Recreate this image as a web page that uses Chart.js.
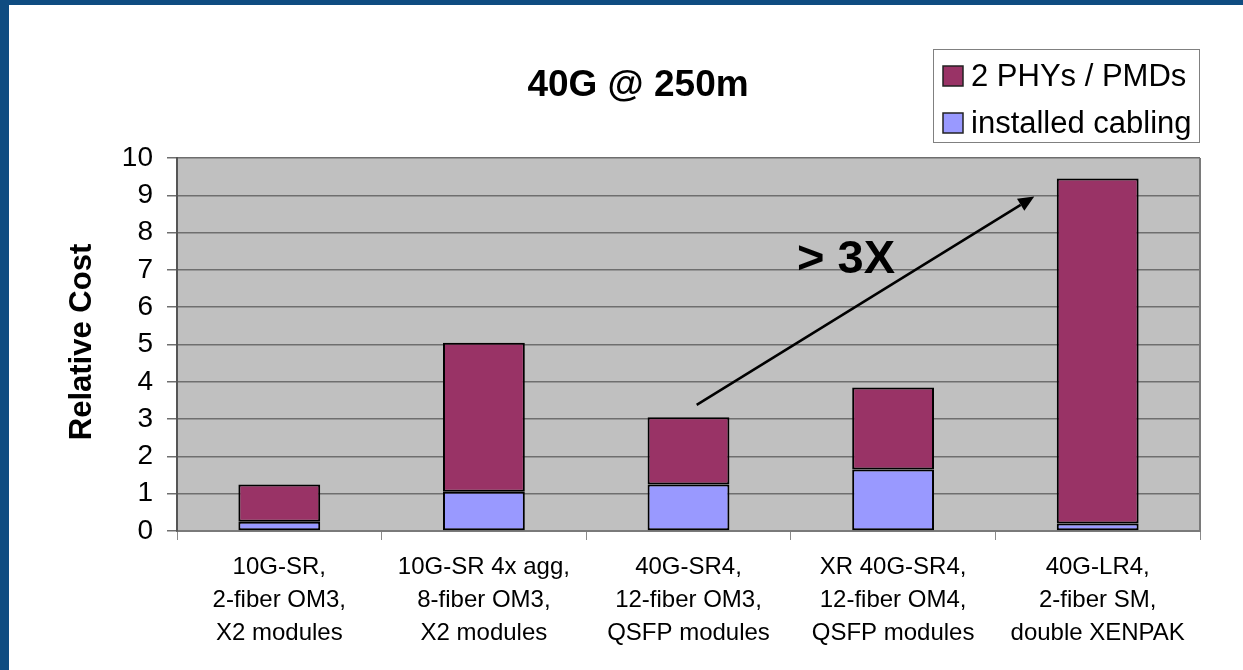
<!DOCTYPE html>
<html>
<head>
<meta charset="utf-8">
<script src="https://cdn.jsdelivr.net/npm/chart.js@4/dist/chart.umd.min.js"></script>
<style>
  html, body { margin: 0; padding: 0; background: #ffffff; }
  #frame { position: absolute; left: 0; top: 0; width: 1243px; height: 670px; overflow: hidden; }
  #bl { position: absolute; left: 0; top: 0; width: 9px; height: 670px; background: #0f4c81; }
  #bt { position: absolute; left: 0; top: 0; width: 1243px; height: 5px; background: #0f4c81; }
  #c { position: absolute; left: 0; top: 0; }
</style>
</head>
<body>
<div id="frame">
  <div id="bl"></div>
  <div id="bt"></div>
  <canvas id="c" width="1243" height="670"></canvas>
</div>
<script>
// ---- data ----
const categories = [
  ["10G-SR,", "2-fiber OM3,", "X2 modules"],
  ["10G-SR 4x agg,", "8-fiber OM3,", "X2 modules"],
  ["40G-SR4,", "12-fiber OM3,", "QSFP modules"],
  ["XR 40G-SR4,", "12-fiber OM4,", "QSFP modules"],
  ["40G-LR4,", "2-fiber SM,", "double XENPAK"]
];
const cablingValues = [0.25, 1.05, 1.25, 1.65, 0.2];
const phyValues = [1.0, 4.0, 1.8, 2.2, 9.25];
const seriesNames = ["2 PHYs / PMDs", "installed cabling"];
const yTicks = [0, 1, 2, 3, 4, 5, 6, 7, 8, 9, 10];
const chartTitle = "40G @ 250m";
const yAxisTitle = "Relative Cost";
const annotationText = "> 3X";
// arrow annotation in data space: [categoryIndex, value]
const arrowFrom = [2.04, 3.38];
const arrowTo = [3.69, 8.97];
const annotationAt = [2.77, 7.27];

const FONT = "'Liberation Sans', Arial, sans-serif";
const PHY_COLOR = "#993366";
const CAB_COLOR = "#9999ff";

const decor = {
  id: "decor",
  beforeDraw(chart) {
    const ctx = chart.ctx, a = chart.chartArea;
    ctx.save();
    ctx.fillStyle = "#c0c0c0";
    ctx.fillRect(a.left, a.top, a.right - a.left, a.bottom - a.top);
    ctx.restore();
  },
  afterDraw(chart) {
    const ctx = chart.ctx, a = chart.chartArea;
    const xs = chart.scales.x, ys = chart.scales.y;
    ctx.save();
    // right border of plot
    ctx.strokeStyle = "#7a7a7a";
    ctx.lineWidth = 2;
    ctx.beginPath();
    ctx.moveTo(a.right, a.top);
    ctx.lineTo(a.right, a.bottom);
    ctx.stroke();

    // title
    ctx.fillStyle = "#000";
    ctx.font = "bold 37px " + FONT;
    ctx.textAlign = "center";
    ctx.textBaseline = "middle";
    ctx.fillText(chartTitle, 638, 86);

    // y axis title
    ctx.save();
    ctx.translate(82, 342);
    ctx.rotate(-Math.PI / 2);
    ctx.font = "bold 31px " + FONT;
    ctx.fillText(yAxisTitle, 0, 0);
    ctx.restore();

    // legend
    ctx.fillStyle = "#ffffff";
    ctx.fillRect(933, 49, 266, 93);
    ctx.strokeStyle = "#808080";
    ctx.lineWidth = 1;
    ctx.strokeRect(933.5, 49.5, 266, 93);
    const items = [[seriesNames[0], PHY_COLOR, 76], [seriesNames[1], CAB_COLOR, 123]];
    ctx.font = "31px " + FONT;
    ctx.textAlign = "left";
    items.forEach(([t, col, cy]) => {
      ctx.fillStyle = col;
      ctx.fillRect(943, cy - 10, 20, 20);
      ctx.strokeStyle = "#222";
      ctx.lineWidth = 1.5;
      ctx.strokeRect(943, cy - 10, 20, 20);
      ctx.fillStyle = "#000";
      ctx.fillText(t, 971, cy + 1);
    });

    // arrow
    const px = (p) => [xs.getPixelForValue(p[0]), ys.getPixelForValue(p[1])];
    const [x0, y0] = px(arrowFrom), [x1, y1] = px(arrowTo);
    const ang = Math.atan2(y1 - y0, x1 - x0);
    const hl = 16, hw = 7;
    const bx = x1 - hl * Math.cos(ang), by = y1 - hl * Math.sin(ang);
    ctx.strokeStyle = "#000";
    ctx.lineWidth = 2.5;
    ctx.beginPath();
    ctx.moveTo(x0, y0);
    ctx.lineTo(bx, by);
    ctx.stroke();
    ctx.fillStyle = "#000";
    ctx.beginPath();
    ctx.moveTo(x1, y1);
    ctx.lineTo(bx + hw * Math.sin(ang), by - hw * Math.cos(ang));
    ctx.lineTo(bx - hw * Math.sin(ang), by + hw * Math.cos(ang));
    ctx.closePath();
    ctx.fill();

    // annotation text
    const [tx, ty] = px(annotationAt);
    ctx.font = "bold 47px " + FONT;
    ctx.textAlign = "center";
    ctx.textBaseline = "middle";
    ctx.fillText(annotationText, tx, ty);
    ctx.restore();
  }
};

new Chart(document.getElementById("c"), {
  type: "bar",
  data: {
    labels: categories,
    datasets: [
      { label: seriesNames[1], data: cablingValues, backgroundColor: CAB_COLOR,
        borderColor: "#000", borderWidth: 2, borderSkipped: false,
        barPercentage: 0.4, categoryPercentage: 1.0 },
      { label: seriesNames[0], data: phyValues, backgroundColor: PHY_COLOR,
        borderColor: "#000", borderWidth: 2, borderSkipped: false,
        barPercentage: 0.4, categoryPercentage: 1.0 }
    ]
  },
  options: {
    responsive: false,
    animation: false,
    devicePixelRatio: 1,
    layout: { padding: { left: 0, top: 158, right: 43, bottom: 0 } },
    plugins: { legend: { display: false }, title: { display: false }, tooltip: { enabled: false } },
    scales: {
      x: {
        stacked: true,
        grid: { drawOnChartArea: false, drawTicks: true, tickLength: 9, color: "#8a8a8a", lineWidth: 1 },
        border: { display: true, color: "#7a7a7a", width: 2 },
        ticks: { color: "#000", font: { family: FONT, size: 24, lineHeight: 1.375 }, padding: 11, maxRotation: 0, autoSkip: false },
        afterFit(s) { s.height = 139; }
      },
      y: {
        stacked: true,
        min: 0, max: 10,
        afterBuildTicks(s) { s.ticks = yTicks.map(v => ({ value: v })); },
        grid: { color: "#6e6e6e", lineWidth: 1.5, tickLength: 10, drawTicks: true },
        border: { display: true, color: "#555", width: 2 },
        ticks: { color: "#000", font: { family: FONT, size: 28 }, padding: 14 },
        afterFit(s) { s.width = 177; }
      }
    }
  },
  plugins: [decor]
});
</script>
</body>
</html>
